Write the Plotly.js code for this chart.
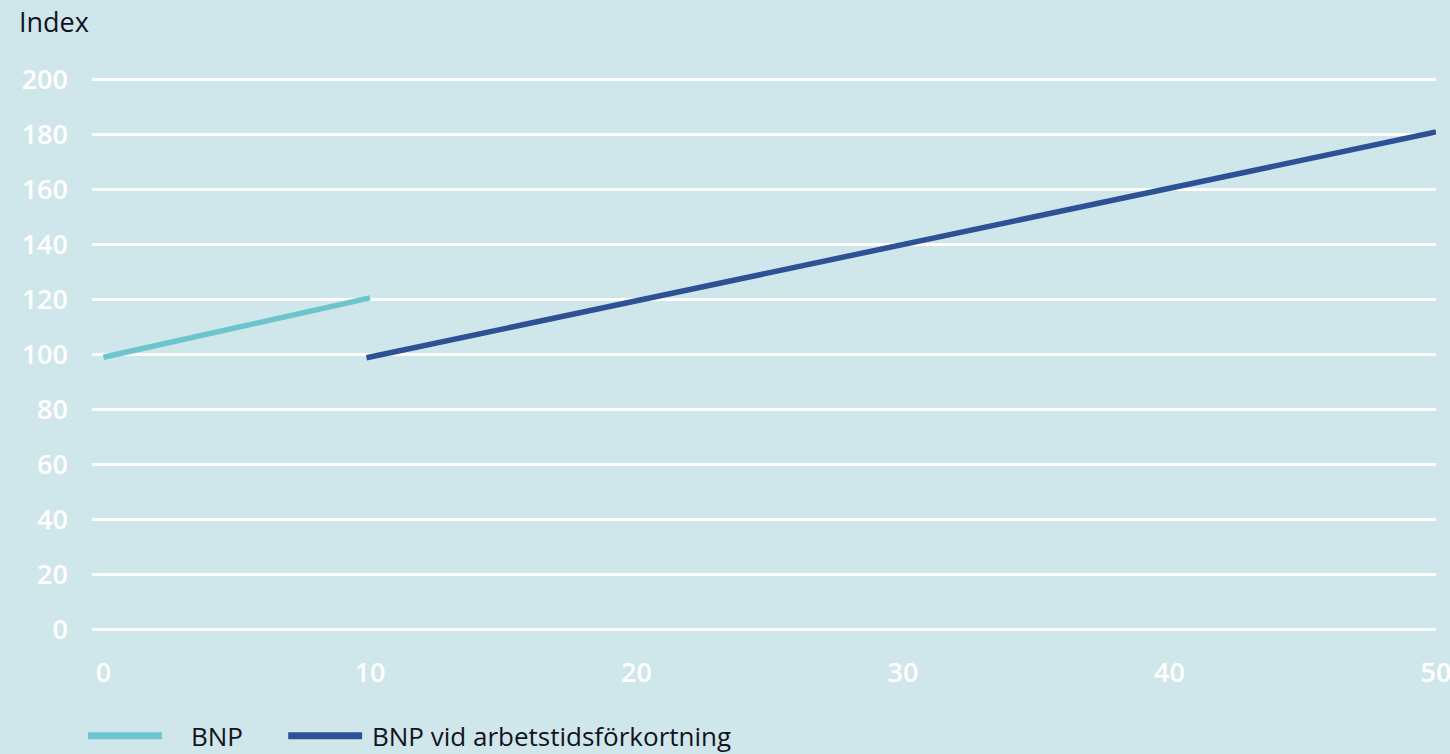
<!DOCTYPE html>
<html>
<head>
<meta charset="utf-8">
<script src="https://cdn.plot.ly/plotly-3.0.1.min.js"></script>
<style>
html,body{margin:0;padding:0;background:#cfe7ea;}
#chart{width:1450px;height:754px;}
</style>
</head>
<body>
<div id="chart"></div>
<script>
// Data
const seriesNames = ["BNP", "BNP vid arbetstidsförkortning"];
const bnpX = [0, 10];
const bnpY = [99, 120.6];
const kortX = [9.87, 50];
const kortY = [98.8, 181];
const yTicks = [0, 20, 40, 60, 80, 100, 120, 140, 160, 180, 200];
const xTicks = [0, 10, 20, 30, 40, 50];
const yAxisLabel = "Index";

const colors = ["#6cc4cc", "#2e5195"];
const bg = "#cfe7ea";
const fontFam = "'Open Sans', Lato, sans-serif";
const textColor = "#111322";

const traces = [
  {x: bnpX, y: bnpY, name: seriesNames[0], mode: "lines", type: "scatter",
   line: {color: colors[0], width: 5.5}, showlegend: false, hoverinfo: "skip"},
  {x: kortX, y: kortY, name: seriesNames[1], mode: "lines", type: "scatter",
   line: {color: colors[1], width: 5.5}, showlegend: false, hoverinfo: "skip"}
];

// manual legend (layout only)
const legY = -0.187; // paper coordinates below plot
const shapes = [
  {type: "line", xref: "paper", yref: "paper", x0: -0.003, x1: 0.052, y0: legY, y1: legY,
   line: {color: colors[0], width: 7}},
  {type: "line", xref: "paper", yref: "paper", x0: 0.146, x1: 0.201, y0: legY, y1: legY,
   line: {color: colors[1], width: 7}}
];
const annotations = [
  {xref: "paper", yref: "paper", x: 0.072, y: legY, xanchor: "left", yanchor: "middle",
   text: seriesNames[0], showarrow: false, font: {family: fontFam, size: 26, color: textColor}},
  {xref: "paper", yref: "paper", x: 0.207, y: legY, xanchor: "left", yanchor: "middle",
   text: seriesNames[1], showarrow: false, font: {family: fontFam, size: 26, color: textColor}}
];

const layout = {
  width: 1450, height: 754,
  paper_bgcolor: bg, plot_bgcolor: bg,
  margin: {l: 92, r: 14, t: 77, b: 122},
  font: {family: fontFam},
  title: {text: yAxisLabel, xref: "container", yref: "container", x: 19/1450, y: 1 - 23/754,
          xanchor: "left", yanchor: "middle", font: {family: fontFam, size: 27, color: textColor}},
  xaxis: {range: [-0.43, 50], tickvals: xTicks, ticktext: xTicks.map(String),
          showgrid: false, zeroline: false, showline: false, ticks: "",
          ticklabeloverflow: "allow",
          tickfont: {family: fontFam, size: 27, weight: 600, color: "#ffffff"}, ticklabelstandoff: 22},
  yaxis: {range: [-1, 201], tickvals: yTicks, ticktext: yTicks.map(String),
          showgrid: true, gridcolor: "#ffffff", gridwidth: 3, zeroline: false, showline: false,
          ticks: "", tickfont: {family: fontFam, size: 27, weight: 600, color: "#ffffff"}, ticklabelstandoff: 23},
  shapes: shapes,
  annotations: annotations
};

Plotly.newPlot("chart", traces, layout, {displayModeBar: false, staticPlot: true});
</script>
</body>
</html>
